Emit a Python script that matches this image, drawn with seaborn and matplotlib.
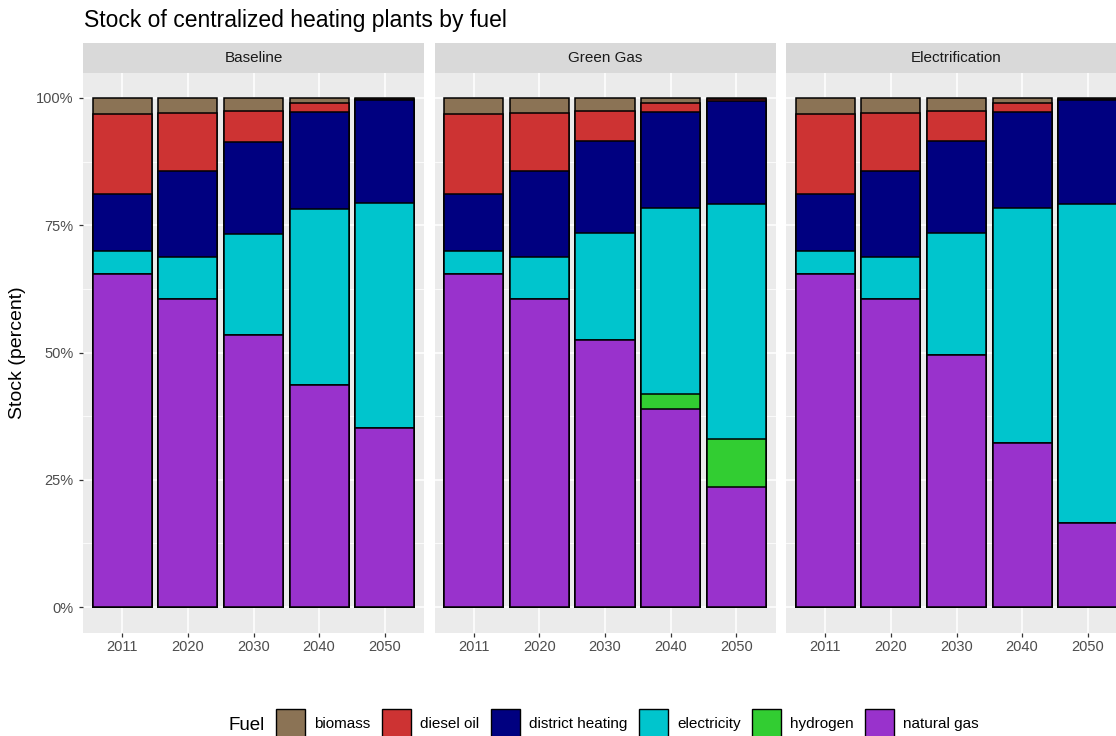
import pandas as pd
import numpy as np
import matplotlib
matplotlib.use("Agg")
import matplotlib.pyplot as plt
from matplotlib.patches import Patch
from matplotlib.ticker import FixedLocator, FuncFormatter
import seaborn as sns

plt.rcParams['font.family'] = ['Liberation Sans', 'DejaVu Sans']

years = ["2011", "2020", "2030", "2040", "2050"]
scenarios = ["Baseline", "Green Gas", "Electrification"]
# stacking order, top of the bar first
fuels = ["biomass", "diesel oil", "district heating", "electricity", "hydrogen", "natural gas"]
fuel_colors = ["#8B7355", "#CD3333", "#000080", "#00C5CD", "#32CD32", "#9932CC"]

# stock share (percent) per fuel, one value per year
baseline = {
    "biomass":          [3.1, 3.0, 2.6, 1.0, 0.2],
    "diesel oil":       [15.7, 11.3, 6.1, 1.8, 0.2],
    "district heating": [11.3, 16.9, 18.0, 19.0, 20.3],
    "electricity":      [4.5, 8.3, 19.8, 34.6, 44.1],
    "hydrogen":         [0.0, 0.0, 0.0, 0.0, 0.0],
    "natural gas":      [65.4, 60.5, 53.5, 43.6, 35.2],
}
green_gas = {
    "biomass":          [3.1, 3.0, 2.6, 1.0, 0.3],
    "diesel oil":       [15.7, 11.3, 5.9, 1.7, 0.3],
    "district heating": [11.3, 16.9, 18.0, 19.0, 20.2],
    "electricity":      [4.5, 8.2, 21.1, 36.5, 46.1],
    "hydrogen":         [0.0, 0.0, 0.0, 2.8, 9.5],
    "natural gas":      [65.4, 60.6, 52.4, 39.0, 23.6],
}
electrification = {
    "biomass":          [3.1, 3.0, 2.6, 1.0, 0.2],
    "diesel oil":       [15.7, 11.3, 5.9, 1.7, 0.3],
    "district heating": [11.3, 16.9, 18.0, 19.0, 20.3],
    "electricity":      [4.5, 8.2, 23.9, 46.1, 62.7],
    "hydrogen":         [0.0, 0.0, 0.0, 0.0, 0.0],
    "natural gas":      [65.4, 60.6, 49.6, 32.2, 16.5],
}
scenario_data = [baseline, green_gas, electrification]

# long table with cumulative stack heights
rows = []
for scen, data in zip(scenarios, scenario_data):
    for yi, year in enumerate(years):
        cum = 0.0
        for fuel in fuels[::-1]:
            cum += data[fuel][yi]
            rows.append({"scenario": scen, "year": year, "fuel": fuel,
                         "stock": data[fuel][yi], "cum": cum})
df = pd.DataFrame(rows)

W, H = 1116, 736
fig = plt.figure(figsize=(W / 100, H / 100), dpi=100)

panel_left = [83, 434.5, 786]
panel_w = 341
panel_top, panel_bot = 72.5, 632.5
strip_top = 43

for i, scen in enumerate(scenarios):
    l = panel_left[i]
    ax = fig.add_axes([l / W, 1 - panel_bot / H, panel_w / W, (panel_bot - panel_top) / H])
    ax.set_facecolor("#EBEBEB")
    # draw cumulative heights, tallest first, so each fuel covers the ones above it
    for fuel, col in zip(fuels, fuel_colors):
        sub = df[(df["scenario"] == scen) & (df["fuel"] == fuel)]
        sns.barplot(data=sub, x="year", y="cum", order=years, color=col,
                    width=0.9, saturation=1, edgecolor="black", linewidth=1.1,
                    errorbar=None, ax=ax)
    ax.set_xlim(-0.6, 4.6)
    ax.set_ylim(-5, 105)
    ax.set_yticks([0, 25, 50, 75, 100])
    ax.yaxis.set_major_formatter(FuncFormatter(lambda v, p: f"{v:.0f}%"))
    ax.yaxis.set_minor_locator(FixedLocator([12.5, 37.5, 62.5, 87.5]))
    ax.set_xlabel("")
    ax.set_ylabel("")
    for s in ax.spines.values():
        s.set_visible(False)
    ax.set_axisbelow(True)
    ax.grid(which="major", color="white", linewidth=1.1)
    ax.grid(which="minor", axis="y", color="white", linewidth=0.55)
    ax.tick_params(which="minor", length=0)
    ax.tick_params(axis="both", which="major", labelsize=10.5, labelcolor="#4D4D4D",
                   color="#333333", length=2.6, width=0.9)
    ax.tick_params(axis="x", pad=3)
    ax.tick_params(axis="y", pad=4)
    if i > 0:
        ax.tick_params(axis="y", length=0, labelleft=False)

    sax = fig.add_axes([l / W, 1 - panel_top / H, panel_w / W, (panel_top - strip_top) / H])
    sax.set_facecolor("#D9D9D9")
    sax.set_xticks([])
    sax.set_yticks([])
    for s in sax.spines.values():
        s.set_visible(False)
    sax.text(0.5, 0.5, scen, ha="center", va="center", fontsize=11,
             color="#1A1A1A", transform=sax.transAxes)

fig.text(84 / W, 1 - 27.5 / H, "Stock of centralized heating plants by fuel",
         fontsize=16.5, ha="left", va="baseline", color="black")
fig.text(18 / W, 1 - 352.5 / H, "Stock (percent)", rotation=90, fontsize=14,
         ha="center", va="center", color="black")

fig.text(228 / W, 1 - 725 / H, "Fuel", fontsize=13.5, ha="left", va="center")
handles = [Patch(facecolor=c, edgecolor="black", linewidth=1.0, label=f)
           for f, c in zip(fuels, fuel_colors)]
fig.legend(handles=handles, loc="center left", bbox_to_anchor=(276 / W, 1 - 723 / H),
           ncol=6, frameon=False, fontsize=11, handlelength=1.9, handleheight=2.4,
           handletextpad=0.6, columnspacing=0.75, borderpad=0, borderaxespad=0)

fig.savefig("out.png", dpi=100)
